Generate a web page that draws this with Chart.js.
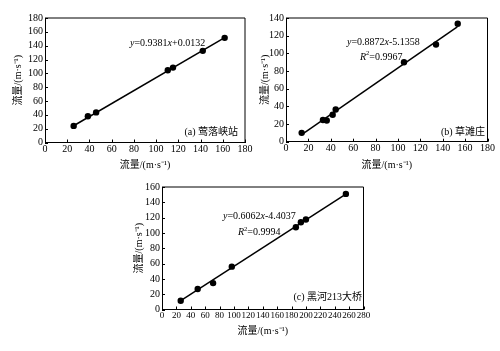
<!DOCTYPE html>
<html><head><meta charset="utf-8">
<script src="https://cdn.jsdelivr.net/npm/chart.js@4"></script>
<style>
html,body{margin:0;padding:0;background:#fff;width:500px;height:351px;overflow:hidden}
canvas{position:absolute;left:0;top:0}
</style></head>
<body>
<canvas id="ca" width="500" height="351"></canvas>
<canvas id="cb" width="500" height="351"></canvas>
<canvas id="cc" width="500" height="351"></canvas>
<script>
// ---- data ----
const axisTitle = '流量/(m·s⁻¹)';

// (a) 莺落峡站
const aLabel = '(a) 莺落峡站';
const aX = [25.8, 38.6, 46, 110.5, 115.2, 142, 161.7];
const aY = [24, 38, 43.5, 104.5, 108.3, 132.5, 151.3];
const aLineX = [25.8, 161.7];
const aLineY = [24.2, 151.7];
const aEq = 'y=0.9381x+0.0132';
const aR2 = '';

// (b) 草滩庄
const bLabel = '(b) 草滩庄';
const bX = [14, 33, 36.4, 41.7, 44.4, 105.4, 134, 153.4];
const bY = [10, 24.5, 24, 30.5, 36.5, 90, 110, 133.5];
const bLineX = [14, 153];
const bLineY = [8, 130];
const bEq = 'y=0.8872x-5.1358';
const bR2 = 'R2=0.9967';

// (c) 黑河213大桥
const cLabel = '(c) 黑河213大桥';
const cX = [26, 49.6, 71, 97, 186, 193, 200, 255.5];
const cY = [11.5, 26.8, 34.5, 56, 107.5, 114, 117.5, 151];
const cLineX = [25, 256];
const cLineY = [11, 151];
const cEq = 'y=0.6062x-4.4037';
const cR2 = 'R2=0.9994';

// axis ranges / ticks
const aXMax = 180, aYMax = 180;
const bXMax = 180, bYMax = 140;
const cXMax = 280, cYMax = 160;
const tickStep = 20;

// ---- layout ----
const SERIF = "'Liberation Serif','Noto Sans CJK SC'";
const FS = 10, LH = 12;

function pts(xs, ys){ return xs.map((x,i)=>({x:x, y:ys[i]})); }

function richText(ctx, x, y, parts, size){
  let cx = x;
  for (const p of parts){
    const sz = p.sup ? size*0.65 : size;
    ctx.font = (p.it ? 'italic ' : '') + sz + 'px ' + SERIF;
    ctx.textBaseline = 'middle';
    ctx.textAlign = 'left';
    ctx.fillText(p.t, cx, p.sup ? y - size*0.32 : y);
    cx += ctx.measureText(p.t).width;
  }
}
function eqParts(s){
  const m = s.match(/^y(=[^x]+)x(.*)$/);
  return [{t:'y',it:true},{t:m[1]},{t:'x',it:true},{t:m[2]}];
}
function r2Parts(s){
  return [{t:'R',it:true},{t:'2',sup:true},{t:s.slice(2)}];
}

function makePanel(id, cfg){
  const padLeft = cfg.yTitleX - LH/2;
  const yW = cfg.area.left - padLeft;
  const xBoxBottom = cfg.xTitleY + LH/2;
  const xH = xBoxBottom - cfg.area.bottom;
  const framePlugin = {
    id: 'frame'+id,
    afterDraw(chart){
      const ctx = chart.ctx, a = chart.chartArea;
      const xs = chart.scales.x, ys = chart.scales.y;
      ctx.save();
      ctx.strokeStyle = '#000';
      ctx.lineWidth = 1;
      ctx.beginPath();
      ctx.moveTo(a.left, a.top); ctx.lineTo(a.right, a.top); ctx.lineTo(a.right, a.bottom);
      ctx.stroke();
      ctx.beginPath();
      for (const t of xs.ticks){
        const px = Math.round(xs.getPixelForValue(t.value)) + 0.5;
        ctx.moveTo(px, a.bottom); ctx.lineTo(px, a.bottom - 3);
      }
      for (const t of ys.ticks){
        const py = Math.round(ys.getPixelForValue(t.value)) + 0.5;
        ctx.moveTo(a.left, py); ctx.lineTo(a.left + 3, py);
      }
      ctx.stroke();
      ctx.fillStyle = '#000';
      richText(ctx, xs.getPixelForValue(cfg.eqPos[0]), ys.getPixelForValue(cfg.eqPos[1]), eqParts(cfg.eq), FS);
      if (cfg.r2) richText(ctx, xs.getPixelForValue(cfg.r2Pos[0]), ys.getPixelForValue(cfg.r2Pos[1]), r2Parts(cfg.r2), FS);
      ctx.font = FS + 'px ' + SERIF;
      ctx.textAlign = 'right'; ctx.textBaseline = 'middle';
      ctx.fillText(cfg.label, xs.getPixelForValue(cfg.labelPos[0]), ys.getPixelForValue(cfg.labelPos[1]));
      ctx.restore();
    }
  };
  const font = {family: SERIF, size: FS};
  const xFont = {family: SERIF, size: cfg.xTickSize || FS};
  return new Chart(document.getElementById(id), {
    type: 'scatter',
    data: { datasets: [
      { data: pts(cfg.lineX, cfg.lineY), showLine: true, borderColor: '#000', borderWidth: 1.5, pointRadius: 0, order: 2 },
      { data: pts(cfg.xs, cfg.ys), backgroundColor: '#000', borderColor: '#000', pointRadius: 3.2, pointBorderWidth: 0, order: 1 }
    ]},
    options: {
      responsive: false, animation: false, devicePixelRatio: 1,
      events: [],
      layout: { padding: { left: padLeft, top: cfg.area.top, right: 500 - cfg.area.right, bottom: 351 - xBoxBottom } },
      plugins: { legend: {display:false}, tooltip: {enabled:false} },
      scales: {
        x: {
          type: 'linear', min: 0, max: cfg.xMax,
          afterFit(s){ s.height = xH; },
          ticks: { stepSize: tickStep, autoSkip: false, maxRotation: 0, minRotation: 0, padding: 1, color: '#000', font: xFont },
          grid: { display: true, drawOnChartArea: false, drawTicks: false },
          border: { display: true, color: '#000', width: 1 },
          title: { display: true, text: axisTitle, color: '#000', font, padding: 0 }
        },
        y: {
          type: 'linear', min: 0, max: cfg.yMax,
          afterFit(s){ s.width = yW; },
          ticks: { stepSize: tickStep, autoSkip: false, padding: 2, color: '#000', font },
          grid: { display: true, drawOnChartArea: false, drawTicks: false },
          border: { display: true, color: '#000', width: 1 },
          title: { display: true, text: axisTitle, color: '#000', font, padding: 0 }
        }
      }
    },
    plugins: [framePlugin]
  });
}

makePanel('ca', {
  area: {left:45, right:245, top:18, bottom:142.5}, yTitleX: 18, xTitleY: 165,
  xMax: aXMax, yMax: aYMax, xs: aX, ys: aY, lineX: aLineX, lineY: aLineY,
  eq: aEq, eqPos: [76.5, 144], r2: aR2, r2Pos: [0,0], label: aLabel, labelPos: [173.7, 15]
});
makePanel('cb', {
  area: {left:286, right:487.5, top:18, bottom:141.7}, yTitleX: 265, xTitleY: 165,
  xMax: bXMax, yMax: bYMax, xs: bX, ys: bY, lineX: bLineX, lineY: bLineY,
  eq: bEq, eqPos: [54.5, 112], r2: bR2, r2Pos: [66, 96], label: bLabel, labelPos: [177.8, 11]
});
makePanel('cc', {
  area: {left:162, right:363.5, top:187, bottom:309.5}, yTitleX: 139, xTitleY: 331.7,
  xMax: cXMax, yMax: cYMax, xs: cX, ys: cY, lineX: cLineX, lineY: cLineY, xTickSize: 9,
  eq: cEq, eqPos: [84.8, 121], r2: cR2, r2Pos: [105.6, 101], label: cLabel, labelPos: [277.9, 16.3]
});
</script>
</body></html>
